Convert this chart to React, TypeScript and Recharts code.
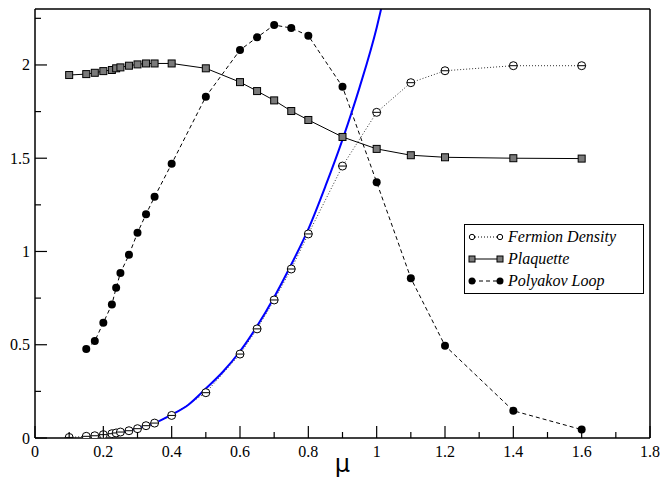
import React from 'react';
import { ComposedChart, Line, XAxis, YAxis, Legend, Label } from 'recharts';

// mu values and measured curves
const fermionMu = [0.1, 0.15, 0.175, 0.2, 0.225, 0.2375, 0.25, 0.275, 0.3, 0.325, 0.35, 0.4, 0.5, 0.6, 0.65, 0.7, 0.75, 0.8, 0.9, 1.0, 1.1, 1.2, 1.4, 1.6];
const fermionDensity = [0.003, 0.009, 0.012, 0.018, 0.023, 0.027, 0.032, 0.039, 0.05, 0.066, 0.08, 0.121, 0.243, 0.45, 0.585, 0.74, 0.906, 1.094, 1.458, 1.746, 1.905, 1.969, 1.996, 1.996];

const plaquetteMu = [0.1, 0.15, 0.175, 0.2, 0.225, 0.2375, 0.25, 0.275, 0.3, 0.325, 0.35, 0.4, 0.5, 0.6, 0.65, 0.7, 0.75, 0.8, 0.9, 1.0, 1.1, 1.2, 1.4, 1.6];
const plaquette = [1.946, 1.951, 1.958, 1.967, 1.973, 1.982, 1.987, 1.996, 2.003, 2.008, 2.008, 2.008, 1.982, 1.908, 1.86, 1.81, 1.753, 1.705, 1.614, 1.55, 1.516, 1.505, 1.5, 1.498];

const polyakovMu = [0.15, 0.175, 0.2, 0.225, 0.2375, 0.25, 0.275, 0.3, 0.325, 0.35, 0.4, 0.5, 0.6, 0.65, 0.7, 0.75, 0.8, 0.9, 1.0, 1.1, 1.2, 1.4, 1.6];
const polyakov = [0.477, 0.52, 0.618, 0.716, 0.805, 0.885, 0.982, 1.1, 1.2, 1.293, 1.47, 1.83, 2.08, 2.148, 2.214, 2.198, 2.157, 1.883, 1.371, 0.857, 0.495, 0.146, 0.045];

// blue fit curve
const fitMu = [0.22, 0.25, 0.3, 0.35, 0.4, 0.45, 0.5, 0.55, 0.6, 0.65, 0.7, 0.75, 0.8, 0.85, 0.9, 0.95, 1.0, 1.013];
const fit = [0.022, 0.03, 0.052, 0.08, 0.125, 0.18, 0.265, 0.355, 0.465, 0.6, 0.755, 0.93, 1.12, 1.35, 1.6, 1.88, 2.2, 2.3];

const xMajor = [0, 0.2, 0.4, 0.6, 0.8, 1, 1.2, 1.4, 1.6, 1.8];
const xMinor = [0.1, 0.3, 0.5, 0.7, 0.9, 1.1, 1.3, 1.5, 1.7];
const yMajor = [0, 0.5, 1, 1.5, 2];
const yMinor = [0.25, 0.75, 1.25, 1.75, 2.25];
const xLabels = ['0', '0.2', '0.4', '0.6', '0.8', '1', '1.2', '1.4', '1.6', '1.8'];
const yLabels = ['0', '0.5', '1', '1.5', '2'];

const zip = (xs: number[], ys: number[]) => xs.map((x, i) => ({ x, y: ys[i] }));
const fermionData = zip(fermionMu, fermionDensity);
const plaquetteData = zip(plaquetteMu, plaquette);
const polyakovData = zip(polyakovMu, polyakov);
const fitData = zip(fitMu, fit);

const xTicks = [...xMajor, ...xMinor].sort((a, b) => a - b);
const yTicks = [...yMajor, ...yMinor].sort((a, b) => a - b);

const FONT = 'Liberation Serif, Times New Roman, DejaVu Serif, serif';
const MAJOR = 12;
const MINOR = 6;

const majorIndex = (v: number, majors: number[]) => majors.findIndex(m => Math.abs(m - v) < 1e-6);

const BottomTick = (props: any) => {
  const { x, y, payload } = props;
  const idx = majorIndex(payload.value, xMajor);
  return (
    <g>
      <line x1={x} x2={x} y1={y} y2={y - (idx >= 0 ? MAJOR : MINOR)} stroke="#000" strokeWidth={1.2} />
      {idx >= 0 && (
        <text x={x} y={y + 19} textAnchor="middle" style={{ fontFamily: FONT, fontSize: 16 }} fill="#000">
          {xLabels[idx]}
        </text>
      )}
    </g>
  );
};

const TopTick = (props: any) => {
  const { x, y, payload } = props;
  const major = majorIndex(payload.value, xMajor) >= 0;
  return <line x1={x} x2={x} y1={y} y2={y + (major ? MAJOR : MINOR)} stroke="#000" strokeWidth={1.2} />;
};

const LeftTick = (props: any) => {
  const { x, y, payload } = props;
  const idx = majorIndex(payload.value, yMajor);
  return (
    <g>
      <line x1={x} x2={x + (idx >= 0 ? MAJOR : MINOR)} y1={y} y2={y} stroke="#000" strokeWidth={1.2} />
      {idx >= 0 && (
        <text x={x - 5} y={y + 5.5} textAnchor="end" style={{ fontFamily: FONT, fontSize: 16 }} fill="#000">
          {yLabels[idx]}
        </text>
      )}
    </g>
  );
};

const RightTick = (props: any) => {
  const { x, y, payload } = props;
  const major = majorIndex(payload.value, yMajor) >= 0;
  return <line x1={x} x2={x - (major ? MAJOR : MINOR)} y1={y} y2={y} stroke="#000" strokeWidth={1.2} />;
};

const OpenCircle = (props: any) => {
  const { cx, cy } = props;
  if (cx == null || cy == null) return null;
  const r = 4;
  return (
    <g>
      <circle cx={cx} cy={cy} r={r} fill="#fff" stroke="#000" strokeWidth={1} />
      <line x1={cx - r} x2={cx + r} y1={cy} y2={cy} stroke="#000" strokeWidth={1} />
    </g>
  );
};

const Square = (props: any) => {
  const { cx, cy } = props;
  if (cx == null || cy == null) return null;
  const s = 7;
  return <rect x={cx - s / 2} y={cy - s / 2} width={s} height={s} fill="#7a7a7a" stroke="#000" strokeWidth={1} />;
};

const FilledCircle = (props: any) => {
  const { cx, cy } = props;
  if (cx == null || cy == null) return null;
  return <circle cx={cx} cy={cy} r={4} fill="#000" />;
};

const legendRows = [
  { name: 'Fermion Density', dash: '1 2', kind: 'open' },
  { name: 'Plaquette', dash: undefined, kind: 'square' },
  { name: 'Polyakov Loop', dash: '4 3', kind: 'filled' },
];

const LegendBox = () => (
  <div
    style={{
      border: '1px solid #000',
      background: '#fff',
      padding: '1px 3px',
      fontFamily: FONT,
      fontStyle: 'italic',
      fontSize: 16,
      lineHeight: '22px',
      width: 180,
      boxSizing: 'border-box',
    }}
  >
    {legendRows.map(row => (
      <div key={row.name} style={{ display: 'flex', alignItems: 'center', height: 22 }}>
        <svg width={36} height={12} style={{ marginRight: 4, flexShrink: 0 }}>
          <line x1={4} x2={32} y1={6} y2={6} stroke="#000" strokeWidth={1} strokeDasharray={row.dash} />
          {row.kind === 'open' && (
            <>
              <circle cx={4} cy={6} r={2.7} fill="#fff" stroke="#000" />
              <circle cx={32} cy={6} r={2.7} fill="#fff" stroke="#000" />
            </>
          )}
          {row.kind === 'square' && (
            <>
              <rect x={1} y={3} width={6} height={6} fill="#7a7a7a" stroke="#000" />
              <rect x={29} y={3} width={6} height={6} fill="#7a7a7a" stroke="#000" />
            </>
          )}
          {row.kind === 'filled' && (
            <>
              <circle cx={4} cy={6} r={3.5} fill="#000" />
              <circle cx={32} cy={6} r={3.5} fill="#000" />
            </>
          )}
        </svg>
        <span>{row.name}</span>
      </div>
    ))}
  </div>
);

export default function App() {
  return (
    <div style={{ position: 'absolute', left: 0, top: 0, background: '#fff' }}>
      <ComposedChart width={660} height={483} margin={{ top: 8, right: 9, bottom: 0, left: 0 }}>
        <XAxis
          dataKey="x"
          type="number"
          domain={[0, 1.8]}
          ticks={xTicks}
          interval={0}
          height={45}
          tickSize={0}
          tickMargin={0}
          tick={<BottomTick />}
          axisLine={{ stroke: '#000', strokeWidth: 1.5 }}
        >
          <Label value="μ" position="insideBottom" offset={11} fontSize={24} fill="#000" fontFamily="DejaVu Sans, sans-serif" />
        </XAxis>
        <XAxis
          xAxisId="top"
          orientation="top"
          dataKey="x"
          type="number"
          domain={[0, 1.8]}
          ticks={xTicks}
          interval={0}
          height={1}
          tickSize={0}
          tickMargin={0}
          tick={<TopTick />}
          axisLine={{ stroke: '#000', strokeWidth: 1.5 }}
        />
        <YAxis
          type="number"
          domain={[0, 2.3]}
          ticks={yTicks}
          interval={0}
          width={35}
          tickSize={0}
          tickMargin={0}
          tick={<LeftTick />}
          axisLine={{ stroke: '#000', strokeWidth: 1.5 }}
          allowDataOverflow
        />
        <YAxis
          yAxisId="right"
          orientation="right"
          type="number"
          domain={[0, 2.3]}
          ticks={yTicks}
          interval={0}
          width={1}
          tickSize={0}
          tickMargin={0}
          tick={<RightTick />}
          axisLine={{ stroke: '#000', strokeWidth: 1.5 }}
        />
        <Legend
          layout="vertical"
          verticalAlign="middle"
          align="center"
          wrapperStyle={{ position: 'absolute', left: 464, top: 224, width: 180 }}
          content={<LegendBox />}
        />
        <Line
          data={fermionData}
          dataKey="y"
          name="Fermion Density"
          type="linear"
          stroke="#333"
          strokeWidth={1}
          strokeDasharray="1 2"
          dot={<OpenCircle />}
          activeDot={false}
          isAnimationActive={false}
        />
        <Line
          data={plaquetteData}
          dataKey="y"
          name="Plaquette"
          type="linear"
          stroke="#000"
          strokeWidth={1}
          dot={<Square />}
          activeDot={false}
          isAnimationActive={false}
        />
        <Line
          data={polyakovData}
          dataKey="y"
          name="Polyakov Loop"
          type="linear"
          stroke="#000"
          strokeWidth={1}
          strokeDasharray="4 3"
          dot={<FilledCircle />}
          activeDot={false}
          isAnimationActive={false}
        />
        <Line
          data={fitData}
          dataKey="y"
          name="fit"
          legendType="none"
          type="monotone"
          stroke="#0000ff"
          strokeWidth={2}
          dot={false}
          activeDot={false}
          isAnimationActive={false}
        />
      </ComposedChart>
    </div>
  );
}
